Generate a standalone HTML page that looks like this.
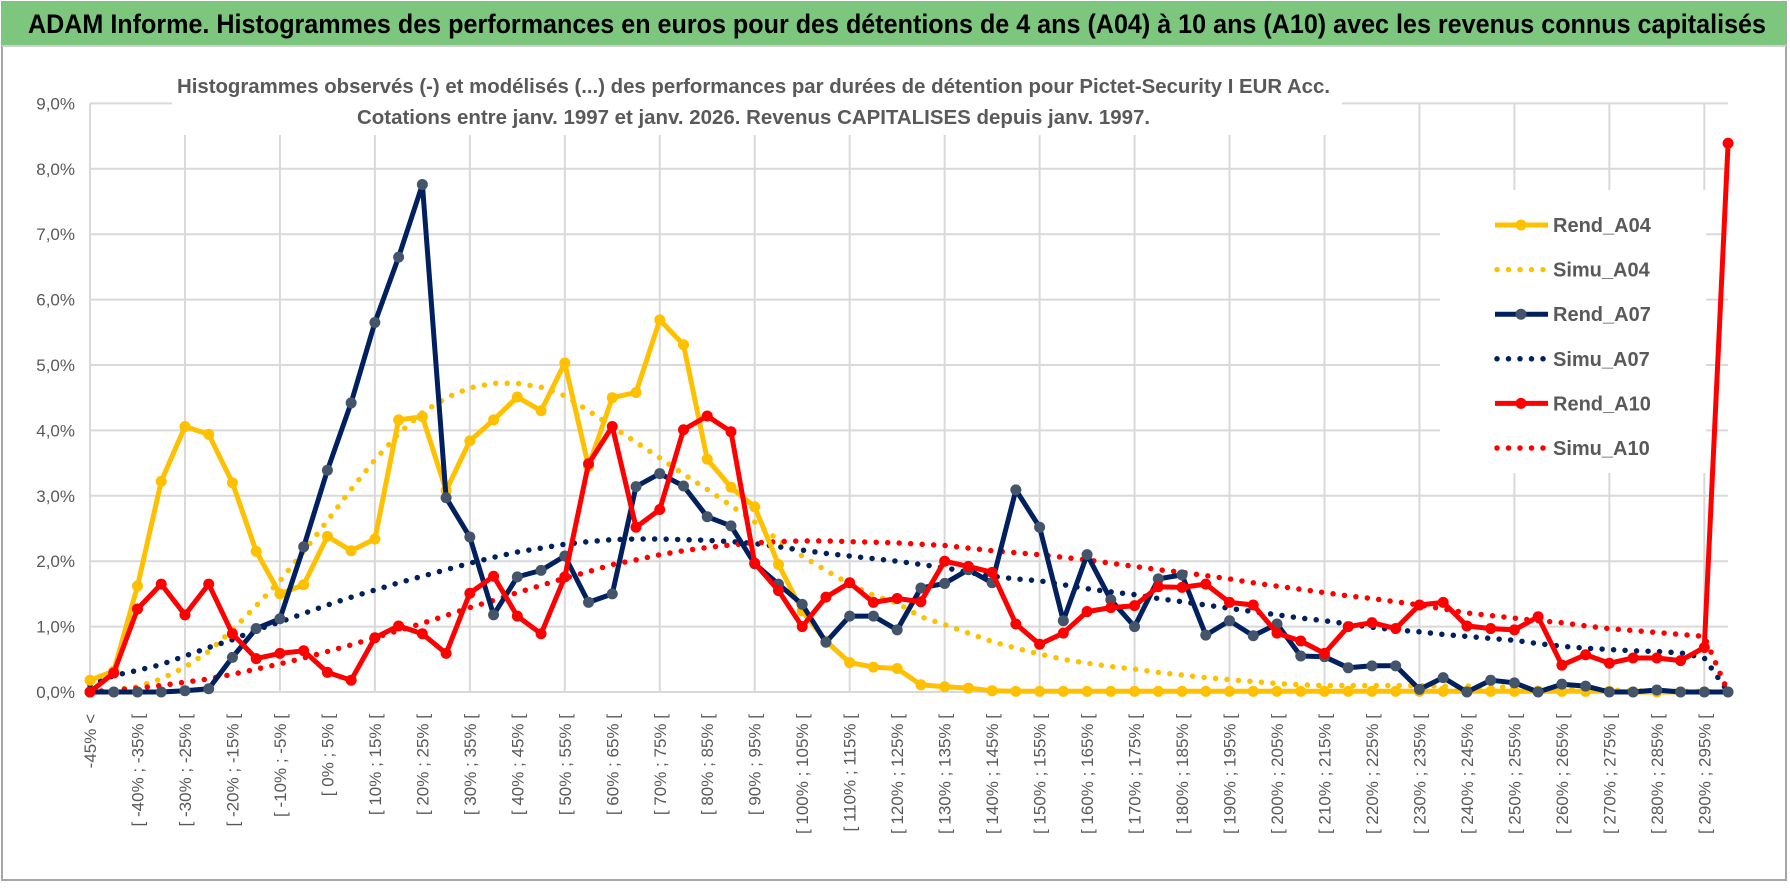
<!DOCTYPE html>
<html><head><meta charset="utf-8">
<style>
html,body{margin:0;padding:0;background:#fff;}
svg{display:block;font-family:"Liberation Sans",sans-serif;}
</style></head>
<body>
<svg id="chart" width="1790" height="888" viewBox="0 0 1790 888" xmlns="http://www.w3.org/2000/svg">
  <rect x="0" y="0" width="1790" height="888" fill="#fff"/>
  <rect x="2" y="2" width="1784" height="878" fill="none" stroke="#a6a6a6" stroke-width="2"/>
  <rect x="2" y="2" width="1784" height="43" fill="#7dc67e"/>
  <line x1="2" y1="46" x2="1786" y2="46" stroke="#d0d0d0" stroke-width="2"/>
  <text x="28" y="33" font-size="27" font-weight="bold" fill="#000" textLength="1738" lengthAdjust="spacingAndGlyphs">ADAM Informe. Histogrammes des performances en euros pour des détentions de 4 ans (A04) à 10 ans (A10) avec les revenus connus capitalisés</text>
  <g id="grid"></g>
  <rect x="172" y="60" width="1170" height="75" fill="#fff"/>
  <text x="177" y="93" font-size="20" font-weight="bold" fill="#595959" textLength="1153" lengthAdjust="spacingAndGlyphs">Histogrammes observés (-) et modélisés (...) des performances par durées de détention pour Pictet-Security I EUR Acc.</text>
  <text x="357" y="124" font-size="20" font-weight="bold" fill="#595959" textLength="793" lengthAdjust="spacingAndGlyphs">Cotations entre janv. 1997 et janv. 2026. Revenus CAPITALISES depuis janv. 1997.</text>
  <g id="yaxis"></g>
  <g id="xaxis"></g>
  <g id="series"></g>
  <g id="legend"></g>
</svg>
<script>
const yTicks = [0,1,2,3,4,5,6,7,8,9];
const yTickLabels = ["0,0%","1,0%","2,0%","3,0%","4,0%","5,0%","6,0%","7,0%","8,0%","9,0%"];
const nCats = 70;
const categories = [];
categories.push("-45% <");
for (let k = 1; k < nCats; k++) { const a = -45 + 5*(k-1); categories.push("[ " + a + "% ; " + (a+5) + "% ["); }

const rendA04 = [0.18,0.32,1.62,3.22,4.06,3.94,3.2,2.15,1.5,1.64,2.38,2.16,2.34,4.16,4.21,3.08,3.84,4.16,4.51,4.3,5.03,3.45,4.5,4.58,5.69,5.31,3.56,3.13,2.83,1.95,1.24,0.78,0.45,0.38,0.36,0.11,0.08,0.06,0.02,0.01,0.01,0.01,0.01,0.01,0.01,0.01,0.01,0.01,0.01,0.01,0.01,0.01,0.01,0.01,0.01,0.01,0.01,0.01,0.01,0.01,0.01,0.01,0.01,0.01,0.01,0,0,0,0,0];
const simuA04 = [0,0.03,0.08,0.2,0.38,0.62,0.95,1.32,1.7,2.15,2.62,3.1,3.55,3.95,4.27,4.5,4.65,4.72,4.72,4.66,4.53,4.3,4.06,3.82,3.58,3.33,3.1,2.85,2.6,2.32,2.08,1.86,1.65,1.48,1.36,1.15,1.03,0.9,0.77,0.67,0.58,0.5,0.44,0.39,0.35,0.3,0.26,0.22,0.19,0.16,0.13,0.11,0.1,0.1,0.1,0.1,0.1,0.09,0.09,0.08,0.07,0.06,0.05,0.04,0.03,0.02,0.02,0.01,0.01,0];
const rendA07 = [0,0,0,0,0.02,0.05,0.53,0.97,1.12,2.22,3.39,4.42,5.65,6.65,7.76,2.97,2.37,1.18,1.76,1.86,2.08,1.37,1.5,3.14,3.34,3.15,2.68,2.54,1.96,1.65,1.34,0.76,1.16,1.16,0.95,1.59,1.66,1.87,1.67,3.09,2.52,1.09,2.1,1.41,1.0,1.73,1.79,0.87,1.09,0.86,1.04,0.55,0.54,0.37,0.4,0.4,0.04,0.22,0,0.18,0.14,0,0.12,0.09,0,0,0.03,0,0,0];
const simuA07 = [0.1,0.25,0.33,0.42,0.55,0.68,0.8,0.95,1.07,1.2,1.33,1.45,1.56,1.67,1.77,1.87,1.97,2.06,2.14,2.2,2.26,2.3,2.33,2.34,2.34,2.33,2.32,2.3,2.27,2.22,2.17,2.12,2.08,2.04,2.0,1.95,1.9,1.83,1.77,1.73,1.7,1.64,1.58,1.53,1.49,1.43,1.38,1.33,1.28,1.23,1.18,1.13,1.09,1.04,0.99,0.95,0.92,0.88,0.85,0.82,0.79,0.74,0.7,0.67,0.65,0.63,0.62,0.6,0.52,0];
const rendA10 = [0,0.29,1.27,1.65,1.18,1.65,0.89,0.51,0.59,0.63,0.3,0.18,0.83,1.01,0.89,0.59,1.51,1.77,1.16,0.89,1.76,3.49,4.06,2.52,2.79,4.01,4.22,3.98,1.97,1.55,1.0,1.45,1.67,1.37,1.43,1.38,2.0,1.92,1.83,1.04,0.73,0.9,1.23,1.29,1.32,1.61,1.6,1.65,1.37,1.33,0.9,0.78,0.59,1.0,1.06,0.97,1.33,1.37,1.01,0.97,0.95,1.15,0.41,0.57,0.44,0.52,0.52,0.48,0.68,8.39];
const simuA10 = [0,0.03,0.06,0.1,0.15,0.2,0.27,0.35,0.43,0.52,0.62,0.72,0.83,0.94,1.05,1.17,1.29,1.4,1.52,1.63,1.74,1.84,1.95,2.02,2.1,2.16,2.21,2.25,2.28,2.3,2.31,2.31,2.3,2.29,2.28,2.26,2.24,2.2,2.16,2.13,2.1,2.06,2.02,1.97,1.92,1.87,1.83,1.78,1.73,1.67,1.62,1.57,1.52,1.47,1.43,1.38,1.33,1.27,1.21,1.17,1.13,1.09,1.06,1.01,0.97,0.94,0.91,0.88,0.85,0];

const seriesNames = ["Rend_A04","Simu_A04","Rend_A07","Simu_A07","Rend_A10","Simu_A10"];

const NS = "http://www.w3.org/2000/svg";
const X0 = 90, DX = 23.74, Y0 = 692, DY = 65.4;
function xScale(i){ return X0 + DX*i; }
function yScale(v){ return Y0 - DY*v; }
function mk(tag, attrs, parent){ const e = document.createElementNS(NS, tag); for (const k in attrs) e.setAttribute(k, attrs[k]); parent.appendChild(e); return e; }

const grid = document.getElementById('grid');
yTicks.forEach(function(t){
  const l = mk('line', {x1:90, x2:1728, y1:yScale(t), y2:yScale(t), stroke:'#d9d9d9', 'stroke-width':2}, grid);
  
  
});
for (let i = 0; i < nCats; i += 4) {
  const l = mk('line', {x1:xScale(i), x2:xScale(i), y1:yScale(9), y2:Y0, stroke:'#d9d9d9', 'stroke-width':2}, grid);
  
  
}
const yaxis = document.getElementById('yaxis');
yTicks.forEach(function(t, k){
  const tx = mk('text', {x:75, y:yScale(t)+6, 'text-anchor':'end', 'font-size':17, fill:'#595959'}, yaxis);
  tx.textContent = yTickLabels[k];
  
  
});
const xaxis = document.getElementById('xaxis');
for (let i = 0; i < nCats; i += 2) {
  const x = xScale(i) + 6, y = 714;
  const tx = mk('text', {x:x, y:y, 'text-anchor':'end', 'font-size':17, fill:'#595959', transform:'rotate(-90 ' + x + ' ' + y + ')'}, xaxis);
  tx.textContent = categories[i];
  
  
}

const series = document.getElementById('series');
function pts(arr){ return arr.map(function(v,i){ return xScale(i).toFixed(1) + ',' + yScale(v).toFixed(1); }).join(' '); }
function dotted(arr, color, name){
  const p = mk('polyline', {points:pts(arr), fill:'none', stroke:color, 'stroke-width':5.5, 'stroke-linecap':'round', 'stroke-dasharray':'0 11.5'}, series);
  
  
}
function solid(arr, color, mcolor, name){
  const g = mk('g', {}, series);
  
  
  const p = mk('polyline', {points:pts(arr), fill:'none', stroke:color, 'stroke-width':5, 'stroke-linejoin':'round'}, g);
  
  
  arr.forEach(function(v,i){
    const c = mk('circle', {cx:xScale(i), cy:yScale(v), r:5.5, fill:mcolor}, g);
    
    
  });
}
dotted(simuA04, '#ffc000', 'simu-a04-series');
dotted(simuA07, '#002060', 'simu-a07-series');
dotted(simuA10, '#ff0000', 'simu-a10-series');
solid(rendA04, '#ffc000', '#ffc000', 'rend-a04-series');
solid(rendA07, '#002060', '#44546a', 'rend-a07-series');
solid(rendA10, '#ff0000', '#ff0000', 'rend-a10-series');

const legend = document.getElementById('legend');
const lbg = mk('rect', {x:1440, y:190, width:266, height:283, fill:'#fff'}, legend);


const legColors = ['#ffc000','#ffc000','#002060','#002060','#ff0000','#ff0000'];
const legMarker = ['#ffc000',null,'#44546a',null,'#ff0000',null];
seriesNames.forEach(function(nm, k){
  const y = 225 + 44.6*k;
  const g = mk('g', {}, legend);
  
  
  if (legMarker[k]) {
    mk('line', {x1:1495, x2:1548, y1:y, y2:y, stroke:legColors[k], 'stroke-width':5}, g);
    mk('circle', {cx:1521, cy:y, r:5.5, fill:legMarker[k]}, g);
  } else {
    mk('line', {x1:1497, x2:1548, y1:y, y2:y, stroke:legColors[k], 'stroke-width':5.5, 'stroke-linecap':'round', 'stroke-dasharray':'0 11.5'}, g);
  }
  const t = mk('text', {x:1553, y:y+7, 'font-size':20, 'font-weight':'bold', fill:'#595959'}, g);
  t.textContent = nm;
});
</script>
</body></html>
